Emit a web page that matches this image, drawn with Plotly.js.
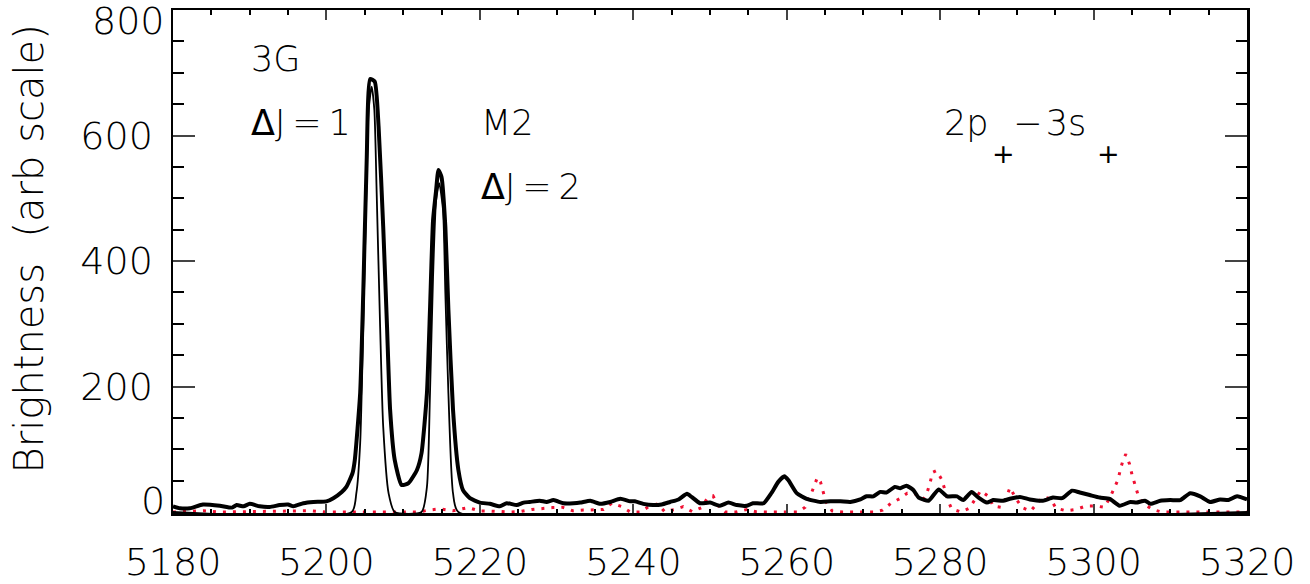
<!DOCTYPE html>
<html><head><meta charset="utf-8">
<script src="https://cdn.plot.ly/plotly-3.0.1.min.js"></script>
<style>html,body{margin:0;padding:0;background:#fff}#chart{width:1310px;height:584px}</style>
</head><body><div id="chart"></div>
<script>
// Observed spectrum (thick black)
const obsWave = [5180.0,5180.9,5182.2,5183.9,5186.1,5187.7,5188.3,5189.2,5190.0,5191.3,5192.6,5193.9,5195.0,5195.7,5197.0,5198.3,5200.0,5200.9,5202.0,5202.6,5203.4,5203.7,5204.4,5204.8,5205.25,5205.7,5206.3,5206.8,5207.4,5207.9,5208.3,5208.9,5209.8,5210.7,5211.8,5212.4,5213.1,5213.5,5213.9,5214.3,5214.6,5215.0,5215.5,5215.9,5216.5,5217.2,5217.8,5218.7,5220.0,5221.3,5222.6,5223.5,5224.8,5225.7,5226.5,5227.8,5228.7,5229.6,5230.9,5232.2,5233.1,5234.4,5235.7,5237.0,5238.3,5239.6,5240.2,5241.3,5242.6,5243.7,5244.8,5245.9,5247.0,5247.6,5248.7,5250.0,5251.3,5252.4,5253.5,5254.8,5255.6,5257.0,5258.0,5258.9,5259.7,5260.2,5261.3,5262.6,5264.4,5265.7,5267.0,5268.3,5269.6,5270.4,5271.3,5272.2,5273.0,5274.1,5274.8,5275.6,5276.5,5277.2,5278.5,5279.8,5280.9,5282.2,5283.0,5284.1,5285.0,5286.1,5286.9,5288.2,5289.1,5290.4,5291.7,5293.4,5294.7,5295.9,5297.2,5298.2,5299.5,5300.8,5302.1,5303.4,5304.8,5305.6,5306.7,5307.4,5308.7,5310.0,5311.3,5312.6,5313.9,5315.2,5316.5,5317.6,5318.7,5320.0];
const obsBright = [9,6,6,12,10,7,11,9,13,9,8,11,12,9,14,16,17,22,32,40,62,83,190,349,561,690,686,614,455,295,163,83,43,46,67,94,189,322,465,513,545,534,455,322,163,67,35,22,15,13,9,14,11,15,16,18,16,19,14,14,15,18,13,16,21,17,17,13,11,12,16,20,29,24,14,15,10,15,11,10,14,14,30,48,57,51,30,21,16,17,17,16,20,25,25,32,31,40,38,42,35,23,18,36,25,25,19,32,23,15,19,18,21,24,20,18,23,22,34,31,27,23,21,10,16,15,18,13,18,19,19,30,25,16,20,19,25,20];

// Model lines (thin black)
const modelWave = [5180,5203.3,5203.9,5204.4,5204.8,5205.2,5205.5,5205.9,5206.25,5206.55,5207.0,5207.4,5208.1,5208.9,5212.4,5213.1,5213.5,5213.9,5214.3,5214.7,5215.2,5215.5,5215.9,5216.5,5217.2,5320];
const modelBright = [0,0,30,110,295,508,640,678,640,508,295,136,30,0,0,40,189,375,497,524,481,349,189,30,0,0];

// Other spectrum (red dotted)
const otherWave = [5180,5184,5186,5198,5200,5212,5213.3,5214.8,5216.5,5218.5,5220,5221.3,5224,5225.2,5226.8,5228.1,5229.5,5230.8,5232.1,5233.5,5234.8,5236.1,5237.2,5238.5,5239.6,5240.9,5242.0,5243.2,5244.1,5245.4,5246.5,5247.7,5248.9,5249.6,5250.4,5251.1,5252.0,5253.4,5254.8,5256.0,5257.4,5261.5,5262.4,5263.0,5263.5,5264.0,5264.4,5264.8,5265.1,5265.9,5267.2,5271.3,5272.5,5273.6,5274.7,5275.7,5276.7,5277.8,5278.3,5278.7,5279.0,5279.5,5280.2,5280.6,5281.0,5281.5,5282.7,5283.8,5284.6,5285.3,5286.4,5286.9,5287.9,5288.6,5289.1,5289.9,5290.7,5291.8,5292.6,5293.4,5294.4,5295.1,5296.4,5297.7,5299.0,5300.3,5301.4,5302.1,5302.7,5303.2,5303.5,5303.9,5304.2,5304.7,5305.0,5305.4,5305.8,5306.4,5307.7,5308.9,5320];
const otherBright = [0,2,0,2,0,0,3,5,2,7,1.5,1.5,0,0.5,4,6,7,7.5,2,3,3,4,14,8.5,0,0,8.5,13,0.5,4,8.5,0.5,7,21,25.5,9.5,0,0,4,0.5,0,0,7.5,23,39,55,48,32,16.5,2,0,0,3,14,21,30,29,20,31,47,63,66,52,36,19,5,0,6,21,34,24,9.5,7.5,22,39,21,7,1.5,13,24,21,6,2,4,9.5,9.5,7.5,22,38,52,68,85,92,76,60,43,27,14,4,0,0];

const xTickVals = [5180,5200,5220,5240,5260,5280,5300,5320];
const yTickVals = [0,200,400,600,800];
const yTickText = ['0','200','400','600','800'];
const yAxisTitle = '\u200b\u00a0\u00a0Brightness\u00a0 (arb scale)';
const DELTA = '<span style="font-weight:500">Δ</span>';
const noteTexts = ['3G', DELTA + 'J\u2009=\u20091', 'M2', DELTA + 'J\u2009=\u20092', '2p\u2002\u2009−\u200a3s'];
const noteX = [5189.9,5189.9,5219.9,5219.9,5280.2];
const noteY = [722,620,620,518,620];
// subscript "+" marks of the transition label
const subText = ['+', '+'];
const subX = [5288.3, 5302.0];
const subY = [572, 572];

const FONT = 'DejaVu Sans, sans-serif';

const traces = [
  {x: otherWave, y: otherBright, mode: 'lines', line: {color: 'rgb(240,16,50)', width: 3, dash: '3px,7px'}},
  {x: modelWave, y: modelBright, mode: 'lines', line: {color: '#000', width: 1.8, shape: 'spline', smoothing: 0.6}},
  {x: obsWave, y: obsBright, mode: 'lines', line: {color: '#000', width: 4, shape: 'spline', smoothing: 0.5}}
];

const annotations = noteTexts.map((t, i) => ({
  x: noteX[i], y: noteY[i], xref: 'x', yref: 'y', text: t, showarrow: false,
  xanchor: 'left', yanchor: 'middle', font: {family: FONT, size: 35, color: '#000', weight: 200}
}));
subText.forEach((t, i) => annotations.push({
  x: subX[i], y: subY[i], xref: 'x', yref: 'y', text: t, showarrow: false,
  xanchor: 'center', yanchor: 'middle', font: {family: FONT, size: 27, color: '#000', weight: 400}
}));
// edge y tick labels (drawn inset as in the original)
[[0, 17.5], [4, 782]].forEach(([k, yv]) => {
  annotations.push({x: -0.006, y: yv, xref: 'paper', yref: 'y', text: yTickText[k], showarrow: false,
    xanchor: 'right', yanchor: 'middle', font: {family: FONT, size: 38, color: '#000', weight: 200}});
});

const layout = {
  width: 1310, height: 584,
  margin: {l: 173, r: 63, t: 10, b: 71},
  paper_bgcolor: '#fff', plot_bgcolor: '#fff',
  showlegend: false,
  font: {family: FONT, color: '#000', weight: 200},
  xaxis: {
    range: [5180, 5320], tickvals: xTickVals, ticks: 'inside', ticklen: 9.5, tickwidth: 2,
    minor: {dtick: 5, tick0: 5180, ticks: 'inside', ticklen: 4.5, tickwidth: 2, tickcolor: '#000'},
    showline: true, linewidth: 2.5, linecolor: '#000', mirror: 'allticks', showgrid: false, zeroline: false,
    tickfont: {family: FONT, size: 38, color: '#000', weight: 200}, ticklabelstandoff: 14
  },
  yaxis: {
    range: [-1.6, 800], tickvals: yTickVals.slice(1, 4), ticktext: yTickText.slice(1, 4),
    ticks: 'inside', ticklen: 22, tickwidth: 2,
    minor: {dtick: 50, tick0: 0, ticks: 'inside', ticklen: 11, tickwidth: 2, tickcolor: '#000'},
    showline: true, linewidth: 2.5, linecolor: '#000', mirror: 'allticks', showgrid: false, zeroline: false,
    tickfont: {family: FONT, size: 38, color: '#000', weight: 200}, ticklabelstandoff: 10,
    title: {text: yAxisTitle, font: {family: FONT, size: 40, color: '#000', weight: 200}, standoff: 25}
  },
  annotations: annotations
};

Plotly.newPlot('chart', traces, layout, {displayModeBar: false, staticPlot: true});
</script></body></html>
